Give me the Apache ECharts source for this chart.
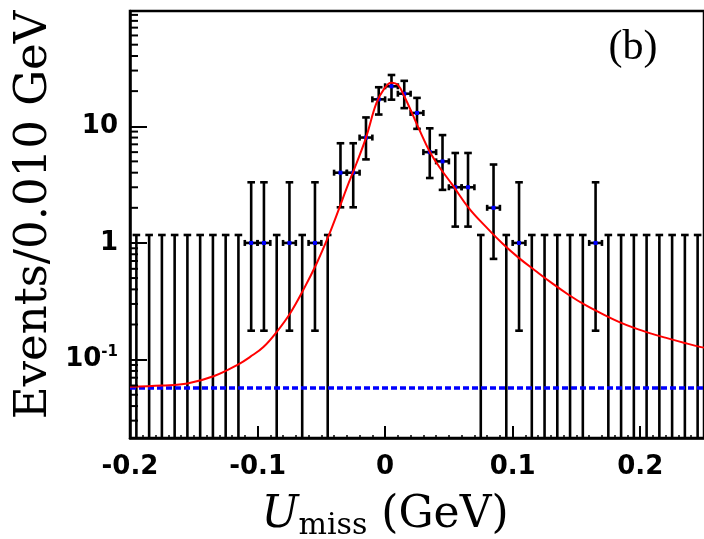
<!DOCTYPE html>
<html><head><meta charset="utf-8">
<script src="https://cdn.jsdelivr.net/npm/echarts@6/dist/echarts.min.js"></script>
<style>html,body{margin:0;padding:0;background:#fff}#c{width:704px;height:539px}</style>
</head><body><div id="c"></div>
<script>
// ---- data ----
const binCenters = [-0.195,-0.185,-0.175,-0.165,-0.155,-0.145,-0.135,-0.125,-0.115,-0.105,
  -0.095,-0.085,-0.075,-0.065,-0.055,-0.045,-0.035,-0.025,-0.015,-0.005,
  0.005,0.015,0.025,0.035,0.045,0.055,0.065,0.075,0.085,0.095,
  0.105,0.115,0.125,0.135,0.145,0.155,0.165,0.175,0.185,0.195,
  0.205,0.215,0.225,0.235,0.245];
const counts = [0,0,0,0,0,0,0,0,0,1,
  1,0,1,0,1,0,4,4,8,17,
  22,19,13,6,5,3,3,0,2,0,
  1,0,0,0,0,0,1,0,0,0,
  0,0,0,0,0];
const errLow = [null,null,null,null,null,null,null,null,null,0.177,
  0.177,null,0.177,null,0.177,null,2.02,2.02,5.2,12.6,
  16.9,14.3,9.5,3.6,2.85,1.38,1.38,null,0.73,null,
  0.177,null,null,null,null,null,0.177,null,null,null,
  null,null,null,null,null];
const errHigh = [1.17,1.17,1.17,1.17,1.17,1.17,1.17,1.17,1.17,3.31,
  3.31,1.17,3.31,1.17,3.31,1.17,7.15,7.15,11.9,21.6,
  27.5,24.5,17.5,9.6,8.4,5.9,5.9,1.17,4.7,1.17,
  3.31,1.17,1.17,1.17,1.17,1.17,3.31,1.17,1.17,1.17,
  1.17,1.17,1.17,1.17,1.17];
const binHalfWidth = 0.005;

const fitX = [-0.200,-0.175,-0.155,-0.134,-0.115,-0.1056,-0.0952,-0.0848,-0.0744,-0.0641,
  -0.0536,-0.0446,-0.0355,-0.0302,-0.0224,-0.0147,-0.0069,-0.0004,0.0048,0.0100,
  0.0152,0.0217,0.0269,0.0347,0.0425,0.0528,0.0658,0.0789,0.0918,0.1048,
  0.1178,0.1308,0.1438,0.1568,0.1698,0.1828,0.1958,0.2087,0.2217,0.2348,0.2477,0.25];
const fitY = [0.0585,0.0600,0.0625,0.0724,0.0912,0.106,0.129,0.174,0.250,0.396,
  0.670,1.13,2.05,2.94,4.82,8.15,15.7,21.2,23.6,22.6,
  17.9,12.5,9.3,6.14,4.48,3.14,1.98,1.38,0.994,0.745,
  0.578,0.452,0.360,0.294,0.248,0.212,0.186,0.167,0.152,0.139,0.128,0.127];

const bkgX = [-0.2, 0.25];
const bkgY = [0.057, 0.057];

const yMinorTicks = [0.03,0.04,0.05,0.06,0.07,0.08,0.09,
  0.2,0.3,0.4,0.5,0.6,0.7,0.8,0.9,
  2,3,4,5,6,7,8,9,
  20,30,40,50,60,70,80,90];

const xMin = -0.2, xMax = 0.25, xInterval = 0.1;
const yMin = 0.0213, yMax = 97.2;

// ---- build ----
const errData = binCenters.map((x, i) => [x, counts[i], errLow[i] == null ? 0 : errLow[i], errHigh[i]]);
const fitData = fitX.map((x, i) => [x, fitY[i]]);
const bkgData = bkgX.map((x, i) => [x, bkgY[i]]);

const chart = echarts.init(document.getElementById('c'), null, {renderer: 'canvas'});
const tickFont = 'DejaVu Sans';

chart.setOption({
  animation: false,
  backgroundColor: '#fff',
  grid: {left: 130, top: 11, right: -3, bottom: 101, show: true, borderColor: '#000', borderWidth: 2.5, backgroundColor: 'transparent'},
  xAxis: {
    type: 'value', min: xMin, max: xMax, interval: xInterval,
    axisLine: {show: true, onZero: false, lineStyle: {color: '#000', width: 2.5}},
    axisTick: {show: true, inside: true, length: 12, lineStyle: {color: '#000', width: 2}},
    minorTick: {show: true, splitNumber: 10, length: 3, lineStyle: {color: '#000', width: 1.5}},
    splitLine: {show: false}, minorSplitLine: {show: false},
    axisLabel: {
      margin: 16, color: '#000', fontFamily: tickFont, fontWeight: 'bold', fontSize: 26,
      showMaxLabel: false,
      formatter: v => { const r = Math.round(v * 10) / 10; return r === 0 ? '0' : String(r); }
    }
  },
  yAxis: {
    type: 'log', logBase: 10, min: yMin, max: yMax,
    axisLine: {show: true, onZero: false, lineStyle: {color: '#000', width: 2.5}},
    axisTick: {show: true, inside: true, length: 17, lineStyle: {color: '#000', width: 2}},
    splitLine: {show: false},
    axisLabel: {
      margin: 12, color: '#000', fontFamily: tickFont, fontWeight: 'bold', fontSize: 26,
      showMinLabel: false, showMaxLabel: false,
      formatter: v => {
        const e = Math.round(Math.log10(v));
        if (e === 1) return '10';
        if (e === 0) return '1';
        if (e === -1) return '{b|10}{s|-1}';
        return '';
      },
      rich: {
        b: {fontFamily: tickFont, fontWeight: 'bold', fontSize: 26, color: '#000', lineHeight: 30},
        s: {fontFamily: tickFont, fontWeight: 'bold', fontSize: 15, color: '#000', lineHeight: 16, verticalAlign: 'top'}
      }
    }
  },
  series: [
    {
      type: 'custom', name: 'yMinorTicks', data: [[xMin, 1]], encode: {x: 0, y: 1}, z: 5, silent: true,
      renderItem: (params, api) => {
        const ch = yMinorTicks.map(v => {
          const p = api.coord([xMin, v]);
          return {type: 'line', shape: {x1: p[0], y1: p[1], x2: p[0] + 8, y2: p[1]}, style: {stroke: '#000', lineWidth: 2}};
        });
        return {type: 'group', children: ch};
      }
    },
    {
      type: 'custom', name: 'data', data: errData, encode: {x: 0, y: 3}, z: 2, clip: true, silent: true,
      renderItem: (params, api) => {
        const cs = params.coordSys;
        const bottom = cs.y + cs.height;
        const x = api.value(0), n = api.value(1), lo = api.value(2), hi = api.value(3);
        const top = api.coord([x, hi]);
        const px = top[0];
        const yLo = n > 0 ? api.coord([x, lo])[1] : bottom + 2;
        const st = {stroke: '#000', lineWidth: 2.6};
        const cap = 3.8;
        const ch = [
          {type: 'line', shape: {x1: px, y1: top[1], x2: px, y2: yLo}, style: st},
          {type: 'line', shape: {x1: px - cap, y1: top[1], x2: px + cap, y2: top[1]}, style: st}
        ];
        if (n > 0) {
          const l = api.coord([x - binHalfWidth, n]);
          const r = api.coord([x + binHalfWidth, n]);
          ch.push({type: 'line', shape: {x1: px - cap, y1: yLo, x2: px + cap, y2: yLo}, style: st});
          ch.push({type: 'line', shape: {x1: l[0], y1: l[1], x2: r[0], y2: r[1]}, style: st});
          ch.push({type: 'line', shape: {x1: l[0], y1: l[1] - 3, x2: l[0], y2: l[1] + 3}, style: st});
          ch.push({type: 'line', shape: {x1: r[0], y1: r[1] - 3, x2: r[0], y2: r[1] + 3}, style: st});
          ch.push({type: 'rect', shape: {x: px - 2, y: l[1] - 2, width: 4, height: 4}, style: {fill: '#0000ff'}});
        }
        return {type: 'group', children: ch};
      }
    },
    {
      type: 'line', name: 'background', data: bkgData, showSymbol: false, z: 3, silent: true,
      lineStyle: {color: '#0000ff', width: 3.5, type: [6, 3]}
    },
    {
      type: 'line', name: 'fit', data: fitData, showSymbol: false, smooth: 0.4, z: 4, silent: true,
      lineStyle: {color: '#ff0000', width: 2}
    }
  ],
  graphic: [
    {type: 'text', x: 34, y: 215, rotation: Math.PI / 2, silent: true,
      style: {text: 'Events/0.010 GeV', fontFamily: 'DejaVu Serif', fontSize: 45, fill: '#000',
        align: 'center', verticalAlign: 'middle', textAlign: 'center', textVerticalAlign: 'middle'}},
    {type: 'text', x: 385, y: 516, silent: true,
      style: {text: '{u|U}{m|miss}{g| (GeV)}', fill: '#000',
        align: 'center', verticalAlign: 'middle', textAlign: 'center', textVerticalAlign: 'middle',
        rich: {
          u: {fontFamily: 'DejaVu Serif', fontStyle: 'italic', fontSize: 44, lineHeight: 50, fill: '#000'},
          m: {fontFamily: 'DejaVu Serif', fontSize: 30, lineHeight: 34, verticalAlign: 'bottom', fill: '#000'},
          g: {fontFamily: 'DejaVu Serif', fontSize: 44, lineHeight: 50, fill: '#000'}
        }}},
    {type: 'text', x: 633, y: 48, silent: true,
      style: {text: '(b)', fontFamily: 'Liberation Serif', fontSize: 42, fill: '#000',
        align: 'center', verticalAlign: 'middle', textAlign: 'center', textVerticalAlign: 'middle'}}
  ]
});
</script></body></html>
